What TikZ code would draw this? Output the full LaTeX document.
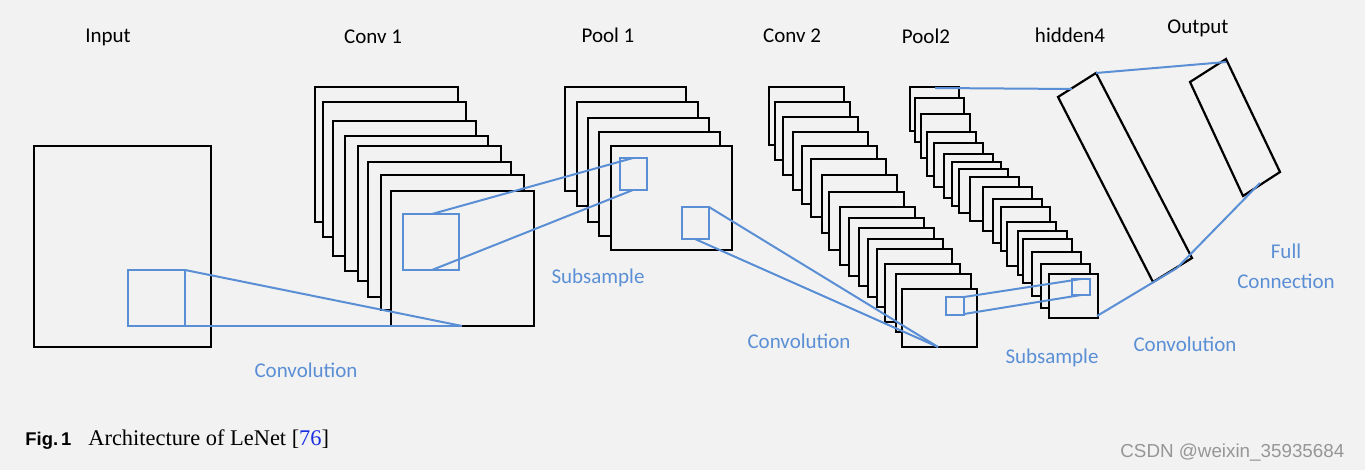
\documentclass[tikz,border=0pt]{standalone}
\usepackage{fontspec}
\setmainfont{Carlito}
\newfontfamily\capserif{Liberation Serif}
\newfontfamily\capsans{Liberation Sans}
\definecolor{bgc}{RGB}{242,242,242}
\definecolor{lblue}{RGB}{91,143,213}
\definecolor{refblue}{RGB}{25,45,225}
\definecolor{wmgray}{RGB}{150,150,150}
\tikzset{
  fmap/.style={draw=black, fill=bgc, line width=1.1pt, line join=miter},
  bsq/.style={draw=lblue, line width=1pt},
  bline/.style={draw=lblue, line width=1pt},
  lbl/.style={font=\fontsize{10.5}{12}\selectfont, anchor=base, inner sep=0pt},
  blbl/.style={lbl, text=lblue},
}
\begin{document}
\begin{tikzpicture}[x=0.5pt, y=-0.5pt]
\fill[bgc] (0,0) rectangle (1365,470);
\useasboundingbox (0,0) rectangle (1365,470);

% Input
\draw[fmap] (34,146) rectangle (211,347);
\draw[bsq] (128,270) rectangle (185,326);

% Conv 1 (8 maps)
\foreach \l/\t in {315/87,323/102,333/121,345/136,358/146,368/162,381/175,391/191}
  \draw[fmap] (\l,\t) rectangle ++(143,135);
\draw[bsq] (403,214) rectangle (459,270);

% Pool 1 (5 maps)
\foreach \l/\t in {565/87,577/102,588/118,599/132,611/146}
  \draw[fmap] (\l,\t) rectangle ++(121,104);
\draw[bsq] (620,158) rectangle (647,190);
\draw[bsq] (682,207) rectangle (709,239);

% Conv 2 (16 maps)
\foreach \l/\t in {769/87,775/102,783/117,793/132,802/146,811/159,822/175,829/192,840/207,849/218,859/228,868/239,877/249,885/264,896/274,902/289}
  \draw[fmap] (\l,\t) rectangle ++(75,58);
\draw[bsq] (946,297) rectangle (964,315);

% Pool2 (18 maps)
\foreach \l/\t in {910/87,915/98,921/114,927/132,934/143,944/154,952/162,959/169,970/177,983/187,993/199,1001/207,1007/222,1018/231,1023/239,1032/252,1041/264,1049/274}
  \draw[fmap] (\l,\t) rectangle ++(49,44);
\draw[bsq] (1072,279) rectangle (1090,295);

% hidden4 and Output
\draw[fmap, fill=none] (1058,97) coordinate (hA) -- (1096,73) coordinate (hB)
   -- (1192,258) coordinate (hC) -- (1153,282) coordinate (hD) -- cycle;
\draw[fmap, fill=none] (1190,82) coordinate (oA) -- (1226,59) coordinate (oB)
   -- (1280,172) coordinate (oC) -- (1243,196) coordinate (oD) -- cycle;

% connector end points
\coordinate (inTR) at (185,270);
\coordinate (inBR) at (185,326);
\coordinate (c1B) at (462,326);
\coordinate (c1T) at (432,214);
\coordinate (c1L) at (432,270);
\coordinate (p1T) at (633,158);
\coordinate (p1L) at (633,190);
\coordinate (p1bT) at (709,207);
\coordinate (p1bL) at (695,239);
\coordinate (c2B) at (938,347);
\coordinate (c2T) at (964,297);
\coordinate (c2L) at (964,314);
\coordinate (p2T) at (1081,279);
\coordinate (p2L) at (1081,295);
\coordinate (p2top) at (935,88);
\coordinate (hTop) at (1072,89);
\coordinate (p2BR) at (1097,316);
\coordinate (hBot) at (1177,268);
\coordinate (oTop) at (1226,62);
\coordinate (oBot) at (1260,183);

% connectors
\draw[bline] (inTR) -- (c1B);
\draw[bline] (inBR) -- (c1B);
\draw[bline] (c1T) -- (p1T);
\draw[bline] (c1L) -- (p1L);
\draw[bline] (p1bT) -- (c2B);
\draw[bline] (p1bL) -- (c2B);
\draw[bline] (c2T) -- (p2T);
\draw[bline] (c2L) -- (p2L);
\draw[bline] (p2top) -- (hTop);
\draw[bline] (p2BR) -- (hBot);
\draw[bline] (hB) -- (oTop);
\draw[bline] (hBot) -- (oBot);

% titles
\node[lbl] (tIn) at (108,43) {Input};
\node[lbl] (tC1) at (373,44) {Conv 1};
\node[lbl] (tP1) at (608,43) {Pool 1};
\node[lbl] (tC2) at (792,43) {Conv 2};
\node[lbl] (tP2) at (926,44) {Pool2};
\node[lbl] (tH) at (1070,43) {hidden4};
\node[lbl] (tO) at (1198,34) {Output};

% operation labels
\node[blbl] (op1) at (306,377) {Convolution};
\node[blbl] (op2) at (598,284) {Subsample};
\node[blbl] (op3) at (799,349) {Convolution};
\node[blbl] (op4) at (1052,363) {Subsample};
\node[blbl] (op5) at (1185,351) {Convolution};
\node[blbl] (op6a) at (1286,259) {Full};
\node[blbl] (op6b) at (1286,288) {Connection};

% caption
\node[anchor=base west, inner sep=0pt, font=\capsans\bfseries\fontsize{9.2}{11}\selectfont] (cap1) at (25,445) {Fig.\,1};
\node[anchor=base west, inner sep=0pt, font=\capserif\fontsize{11.2}{13}\selectfont] (cap2) at (88,445) {Architecture of LeNet [{\color{refblue}76}]};

% watermark
\node[anchor=base west, inner sep=0pt, text=wmgray, font=\capsans\fontsize{9.4}{11}\selectfont] (wm) at (1120,457) {CSDN @weixin\_35935684};
\end{tikzpicture}
\end{document}
